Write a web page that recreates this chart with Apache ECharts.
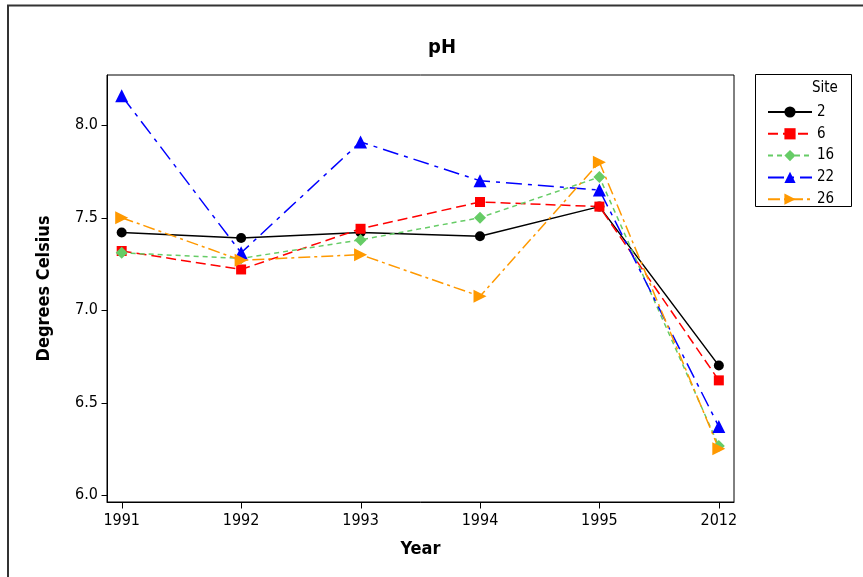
<!DOCTYPE html>
<html>
<head>
<meta charset="utf-8">
<script src="https://cdn.jsdelivr.net/npm/echarts@6/dist/echarts.min.js"></script>
<style>
  html, body { margin: 0; padding: 0; background: #fff; }
  #chart { width: 863px; height: 577px; }
</style>
</head>
<body>
<div id="chart"></div>
<script>
// Sampling years (evenly spaced on the axis)
const years = ['1991', '1992', '1993', '1994', '1995', '2012'];

// pH per site
const site2  = [7.42, 7.39, 7.42, 7.40, 7.56, 6.70];
const site6  = [7.32, 7.22, 7.44, 7.585, 7.56, 6.62];
const site16 = [7.31, 7.28, 7.38, 7.50, 7.72, 6.265];
const site22 = [8.16, 7.31, 7.91, 7.70, 7.65, 6.37];
const site26 = [7.50, 7.27, 7.30, 7.075, 7.80, 6.25];

const yTicks = [6.0, 6.5, 7.0, 7.5, 8.0];
const xTicks = [0, 1, 2, 3, 4, 5];

const X_MIN = -0.123, X_MAX = 5.127;
const Y_MIN = 5.962, Y_MAX = 8.272;

const FONT = '"DejaVu Sans Condensed", "DejaVu Sans", sans-serif';

function pairs(vals) {
  return vals.map((v, i) => [i, v]);
}

function lineSeries(name, vals, color, symbol, size, dash) {
  return {
    name: name,
    type: 'line',
    data: pairs(vals),
    symbol: symbol,
    symbolSize: size,
    showSymbol: true,
    itemStyle: { color: color },
    lineStyle: { color: color, width: 1.5, type: dash },
    emphasis: { disabled: true },
    animation: false
  };
}

// Outward tick marks on the bottom and left edges of the plot box
const tickData = xTicks.map(v => [v, Y_MIN, 'x']).concat(yTicks.map(v => [X_MIN, v, 'y']));
const tickSeries = {
  type: 'custom',
  silent: true,
  clip: false,
  animation: false,
  z: 5,
  data: tickData,
  renderItem: function (params, api) {
    const p = api.coord([api.value(0), api.value(1)]);
    const kind = tickData[params.dataIndex][2];
    const x = Math.round(p[0]) + 0.5, y = Math.round(p[1]) + 0.5;
    const shape = kind === 'x'
      ? { x1: x, y1: y, x2: x, y2: y + 6 }
      : { x1: x - 6, y1: y, x2: x, y2: y };
    return { type: 'line', shape: shape, style: { stroke: '#000', lineWidth: 1 } };
  }
};

const chart = echarts.init(document.getElementById('chart'), null, { renderer: 'canvas' });

chart.setOption({
  backgroundColor: '#ffffff',
  animation: false,
  title: {
    text: 'pH',
    left: 437,
    top: 33,
    textAlign: 'center',
    textStyle: { fontFamily: FONT, fontSize: 20, fontWeight: 'bold', color: '#000' }
  },
  grid: {
    left: 107, top: 75, right: 129, bottom: 75,
    show: true, borderColor: '#000', borderWidth: 1, backgroundColor: 'transparent'
  },
  xAxis: {
    type: 'value',
    min: X_MIN,
    max: X_MAX,
    name: 'Year',
    nameLocation: 'middle',
    nameGap: 38,
    nameTextStyle: { fontFamily: FONT, fontSize: 18, fontWeight: 'bold', color: '#000' },
    axisLine: { show: true, onZero: false, lineStyle: { color: '#000', width: 1 } },
    splitLine: { show: false },
    axisTick: { show: false },
    axisLabel: {
      customValues: xTicks,
      formatter: v => years[Math.round(v)],
      fontFamily: FONT, fontSize: 16, color: '#000', margin: 11
    }
  },
  yAxis: {
    type: 'value',
    min: Y_MIN,
    max: Y_MAX,
    name: 'Degrees Celsius',
    nameLocation: 'middle',
    nameGap: 54,
    nameTextStyle: { fontFamily: FONT, fontSize: 18, fontWeight: 'bold', color: '#000' },
    axisLine: { show: true, onZero: false, lineStyle: { color: '#000', width: 1 } },
    splitLine: { show: false },
    axisTick: { show: false },
    axisLabel: {
      customValues: yTicks,
      formatter: v => Number(v).toFixed(1),
      fontFamily: FONT, fontSize: 16, color: '#000', margin: 9
    }
  },
  legend: {
    orient: 'vertical',
    left: 762,
    top: 99.5,
    itemWidth: 44,
    itemHeight: 14,
    itemGap: 6.8,
    selectedMode: false,
    textStyle: { fontFamily: FONT, fontSize: 15, color: '#000', padding: [0, 0, 0, 0] },
    data: ['2', '6', '16', '22', '26']
  },
  graphic: [
    {
      type: 'rect',
      shape: { x: 8, y: 5.5, width: 900, height: 620 },
      style: { fill: 'none', stroke: '#333', lineWidth: 2 },
      silent: true
    },
    {
      type: 'rect',
      shape: { x: 755.5, y: 74.5, width: 96, height: 132 },
      style: { fill: 'none', stroke: '#000', lineWidth: 1 },
      silent: true
    },
    {
      type: 'text',
      left: 812,
      top: 81,
      style: { text: 'Site', font: '15px ' + FONT, fill: '#000' },
      silent: true
    }
  ],
  series: [
    lineSeries('2',  site2,  '#000000', 'circle', 10, 'solid'),
    lineSeries('6',  site6,  '#ff0000', 'rect', 10, [10, 5]),
    lineSeries('16', site16, '#66cc66', 'diamond', 12, [5, 4]),
    lineSeries('22', site22, '#0000ff', 'triangle', 13, [16, 6, 4, 6]),
    Object.assign(lineSeries('26', site26, '#ff9900', 'triangle', 13, [12, 4, 3, 4]), { symbolRotate: -90 }),
    tickSeries
  ]
});
</script>
</body>
</html>
